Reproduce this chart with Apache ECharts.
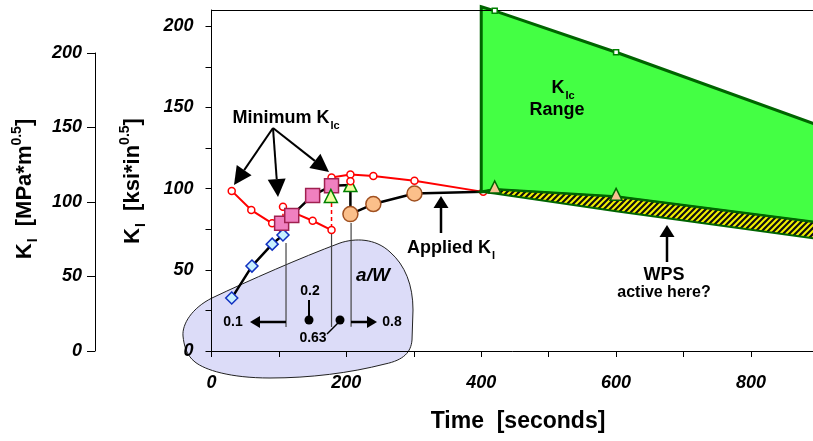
<!DOCTYPE html>
<html>
<head>
<meta charset="utf-8">
<script src="https://cdn.jsdelivr.net/npm/echarts@6/dist/echarts.min.js"></script>
<style>
  html, body { margin: 0; padding: 0; background: #fff; }
  #chart { width: 813px; height: 441px; }
</style>
</head>
<body>
<div id="chart"></div>
<script>
// axis ticks / labels
const xTicks = [0, 100, 200, 300, 400, 500, 600, 700, 800];
const xLabels = [0, 200, 400, 600, 800];
const yTicks = [0, 25, 50, 75, 100, 125, 150, 175, 200];
const yLabels = [0, 50, 100, 150, 200];
const mpaLabels = [0, 50, 100, 150, 200];

// applied K_I (black line), time [s], K [ksi*in^0.5]
const appliedTime = [30, 60, 90, 106, 104, 119, 150, 178, 206, 206, 240, 301, 403];
const appliedK = [32.6, 52.3, 65.8, 71.4, 78.6, 83.5, 95.8, 101.7, 102.2, 84.3, 90.5, 97, 98];

// markers on the applied curve
const diamondTime = [30, 60, 90, 106];
const diamondK = [32.6, 52.3, 65.8, 71.4];
const squareTime = [104, 119, 150, 178];
const squareK = [78.6, 83.5, 95.8, 101.7];
const triTime = [177, 206];
const triK = [95.5, 102.2];
const circleTime = [206, 240, 301];
const circleK = [84.3, 90.5, 97];

// minimum K_Ic (red)
const minATime = [30, 59, 90, 106];
const minAK = [98.6, 86.8, 78.6, 72];
const minBTime = [106, 120, 150, 178];
const minBK = [88.8, 85.5, 80.2, 74.5];
const minCTime = [178, 206, 240, 301, 403];
const minCK = [106.9, 108.7, 107.7, 104.8, 98];
const minDotTime = [206];
const minDotK = [104.5];
const redDashTime = [106, 178];
const redDashTop = [88.8, 95.5];
const redDashBottom = [80, 74.5];

// a/W guide lines
const guideTime = [110.5, 178, 207];
const guideTop = [66.5, 74.5, 78.8];
const guideBottom = [14.8, 14.8, 15];

// K_Ic range band and WPS band
const rangeTime = [400, 420, 600, 900];
const rangeUpper = [212, 209.5, 184, 139];
const rangeLower = [98, 99.5, 95, 79];
const wpsLower = [98, 97, 86, 69];
const rangeMarkTime = [420, 600];
const rangeMarkK = [101, 96.5];
const upperMarkK = [209.5, 184];

const FONT = "'Liberation Sans', Arial, sans-serif";
const zip = (xs, ys) => xs.map((x, i) => [x, ys[i]]);

function stripes() {
  const c = document.createElement('canvas');
  c.width = 6; c.height = 6;
  const g = c.getContext('2d');
  g.fillStyle = '#111';
  g.fillRect(0, 0, 6, 6);
  g.strokeStyle = '#f2f200';
  g.lineWidth = 2;
  g.beginPath();
  g.moveTo(-1, 7); g.lineTo(7, -1);
  g.moveTo(-4, 4); g.lineTo(4, -4);
  g.moveTo(2, 10); g.lineTo(10, 2);
  g.stroke();
  return c;
}

function band(name, upper, lower, style, z) {
  return {
    type: 'custom', name: name, z: z, silent: true,
    data: [[rangeTime[0], upper[0]]],
    renderItem: (params, api) => {
      const top = rangeTime.map((t, i) => api.coord([t, upper[i]]));
      const bot = rangeTime.map((t, i) => api.coord([t, lower[i]])).reverse();
      return { type: 'polygon', shape: { points: top.concat(bot) }, style: style };
    }
  };
}

function segments(name, xs, tops, bottoms, style, z) {
  return {
    type: 'custom', name: name, z: z, silent: true,
    data: xs.map((x, i) => [x, tops[i], bottoms[i]]),
    encode: { x: 0, y: [1, 2] },
    renderItem: (params, api) => {
      const a = api.coord([api.value(0), api.value(1)]);
      const b = api.coord([api.value(0), api.value(2)]);
      return { type: 'line', shape: { x1: a[0], y1: a[1], x2: b[0], y2: b[1] }, style: style };
    }
  };
}

function redLine(name, xs, ys) {
  return {
    type: 'line', name: name, z: 3, data: zip(xs, ys),
    lineStyle: { color: '#ff0000', width: 2 },
    symbol: 'circle', symbolSize: 7,
    itemStyle: { color: '#fff', borderColor: '#ff0000', borderWidth: 1.5 }
  };
}

function marks(name, xs, ys, symbol, size, fill, border, z) {
  return {
    type: 'scatter', name: name, z: z || 6, data: zip(xs, ys),
    symbol: symbol, symbolSize: size,
    itemStyle: { color: fill, borderColor: border, borderWidth: 1.5, opacity: 1 }
  };
}

function arrow(x1, y1, x2, y2, len, half, width) {
  const a = Math.atan2(y2 - y1, x2 - x1);
  const bx = x2 - len * Math.cos(a), by = y2 - len * Math.sin(a);
  const px = -Math.sin(a) * half, py = Math.cos(a) * half;
  return [
    { type: 'line', z: 20, shape: { x1: x1, y1: y1, x2: bx, y2: by }, style: { stroke: '#000', lineWidth: width } },
    { type: 'polygon', z: 20, shape: { points: [[x2, y2], [bx + px, by + py], [bx - px, by - py]] }, style: { fill: '#000' } }
  ];
}

function label(x, y, text, size, fontStyle) {
  return {
    type: 'text', x: x, y: y, z: 20,
    style: {
      text: text, font: (fontStyle || '') + ' bold ' + size + 'px ' + FONT, fill: '#000',
      align: 'center', verticalAlign: 'middle', textAlign: 'center', textVerticalAlign: 'middle'
    }
  };
}

function richLabel(x, y, text, size, rotation) {
  const el = label(x, y, text, size);
  el.rotation = rotation || 0;
  el.style.rich = {
    b: { font: 'bold ' + size + 'px ' + FONT, fill: '#000', lineHeight: size + 8 },
    sub: { font: 'bold ' + Math.round(size * 0.62) + 'px ' + FONT, fill: '#000', verticalAlign: 'bottom', lineHeight: size + 8, padding: [0, 0, 0, 1] },
    sup: { font: 'bold ' + Math.round(size * 0.62) + 'px ' + FONT, fill: '#000', verticalAlign: 'top', lineHeight: size + 8 }
  };
  return el;
}

// outline of the a/W bubble, in pixels (annotation only)
const blobPath = 'M183,336 C182,324 192,308 212,298 C250,280 300,258 340,243 C355,238 375,238 390,252 ' +
  'C405,265 413,285 413,310 L412,340 C411,352 404,360 385,364 C350,373 310,378 270,378 ' +
  'C230,378 205,370 195,362 C186,355 184,345 183,336 Z';

const chart = echarts.init(document.getElementById('chart'), null, { renderer: 'canvas' });

const tickLabel = { fontFamily: FONT, fontSize: 18, fontWeight: 'bold', fontStyle: 'italic', color: '#000' };

const graphics = [
  richLabel(25, 189, '{b|K}{sub|I}{b|  [MPa*m}{sup|0.5}{b|]}', 22, Math.PI / 2),
  richLabel(133, 181, '{b|K}{sub|I}{b|  [ksi*in}{sup|0.5}{b|]}', 22, Math.PI / 2),
  label(518, 422, 'Time  [seconds]', 23),
  richLabel(286, 118, '{b|Minimum K}{sub|Ic}', 18),
  richLabel(451, 248, '{b|Applied K}{sub|I}', 18),
  richLabel(563, 88, '{b|K}{sub|Ic}', 18),
  label(557, 110, 'Range', 18),
  label(664, 275, 'WPS', 18),
  label(664, 293, 'active here?', 16),
  label(373, 276, 'a/W', 19, 'italic'),
  label(310, 291, '0.2', 14),
  label(313, 338, '0.63', 14),
  label(233, 322, '0.1', 14),
  label(392, 322, '0.8', 14),
  { type: 'line', z: 20, shape: { x1: 309, y1: 300, x2: 309, y2: 318 }, style: { stroke: '#000', lineWidth: 2 } },
  { type: 'line', z: 20, shape: { x1: 339, y1: 322, x2: 327, y2: 334 }, style: { stroke: '#000', lineWidth: 1.5 } },
  { type: 'circle', z: 20, shape: { cx: 309, cy: 320, r: 4.5 }, style: { fill: '#000' } },
  { type: 'circle', z: 20, shape: { cx: 340, cy: 320, r: 4.5 }, style: { fill: '#000' } }
].concat(
  arrow(286, 322, 250, 322, 10, 6, 2.5),
  arrow(351, 322, 377, 322, 10, 6, 2.5),
  arrow(273, 128, 234, 185, 18, 9, 2),
  arrow(273, 128, 278, 197, 18, 9, 2),
  arrow(273, 128, 329, 172, 18, 9, 2),
  arrow(441, 233, 441, 196, 12, 7.5, 2.5),
  arrow(667, 262, 667, 225, 12, 7.5, 2.5)
);

chart.setOption({
  animation: false,
  backgroundColor: '#fff',
  grid: [
    { left: 211.5, right: 0, top: 10, bottom: 90 },
    { left: 95, width: 1, top: 53, bottom: 90 }
  ],
  xAxis: [
    {
      type: 'value', gridIndex: 0, min: 0, max: 892, z: 5,
      axisLine: { lineStyle: { color: '#000', width: 1 } },
      axisTick: { length: 6, lineStyle: { color: '#000' }, customValues: xTicks },
      axisLabel: Object.assign({ margin: 23, customValues: xLabels }, tickLabel),
      splitLine: { show: false }
    },
    {
      type: 'value', gridIndex: 0, min: 0, max: 892, position: 'top', z: 5,
      axisLine: { show: true, lineStyle: { color: '#000', width: 1 } },
      axisTick: { show: false }, axisLabel: { show: false }, splitLine: { show: false }
    },
    { type: 'value', gridIndex: 1, show: false, min: 0, max: 1 }
  ],
  yAxis: [
    {
      type: 'value', gridIndex: 0, min: 0, max: 210, z: 5,
      axisLine: { show: true, lineStyle: { color: '#000', width: 1 } },
      axisTick: { show: true, length: 6, lineStyle: { color: '#000' }, customValues: yTicks },
      axisLabel: Object.assign({ margin: 18, customValues: yLabels }, tickLabel),
      splitLine: { show: false }
    },
    {
      type: 'value', gridIndex: 1, min: 0, max: 200, z: 5,
      axisLine: { show: true, lineStyle: { color: '#000', width: 1 } },
      axisTick: { show: true, length: 8, lineStyle: { color: '#000' }, customValues: mpaLabels },
      axisLabel: Object.assign({ margin: 13, customValues: mpaLabels }, tickLabel),
      splitLine: { show: false }
    }
  ],
  graphic: graphics,
  series: [
    {
      type: 'custom', name: 'a/W bubble', z: 1, silent: true, clip: false,
      data: [[0, 0]],
      renderItem: () => ({
        type: 'path', shape: { pathData: blobPath },
        style: { fill: '#dcdcf8', stroke: '#222', lineWidth: 1 }
      })
    },
    redLine('Minimum KIc A', minATime, minAK),
    redLine('Minimum KIc B', minBTime, minBK),
    redLine('Minimum KIc C', minCTime, minCK),
    segments('red dash', redDashTime, redDashTop, redDashBottom,
      { stroke: '#ff0000', lineWidth: 1.5, lineDash: [4, 3] }, 3),
    segments('a/W guides', guideTime, guideTop, guideBottom,
      { stroke: '#444', lineWidth: 1.2 }, 3),
    {
      type: 'line', name: 'Applied KI', z: 4, data: zip(appliedTime, appliedK),
      symbol: 'none', lineStyle: { color: '#000', width: 2.5 }
    },
    band('KIc range', rangeUpper, rangeLower, { fill: '#44ff44', stroke: '#006400', lineWidth: 3 }, 5),
    band('WPS', rangeLower, wpsLower,
      { fill: { image: stripes(), repeat: 'repeat' }, stroke: '#006400', lineWidth: 2 }, 5),
    marks('diamonds', diamondTime, diamondK, 'diamond', 12, '#c8f0ff', '#1030c0'),
    marks('squares', squareTime, squareK, 'rect', 14, '#f080c0', '#a02050'),
    marks('triangles', triTime, triK, 'triangle', 13, '#eeffa0', '#008000'),
    marks('circles', circleTime, circleK, 'circle', 15, '#fbbf8a', '#a05020'),
    marks('red dot', minDotTime, minDotK, 'circle', 7, '#fff', '#ff0000', 7),
    marks('range marks', rangeMarkTime, rangeMarkK, 'triangle', 12, '#f8c090', '#006400'),
    marks('upper marks', rangeMarkTime, upperMarkK, 'rect', 5, '#fff', '#008000')
  ]
});
</script>
</body>
</html>
